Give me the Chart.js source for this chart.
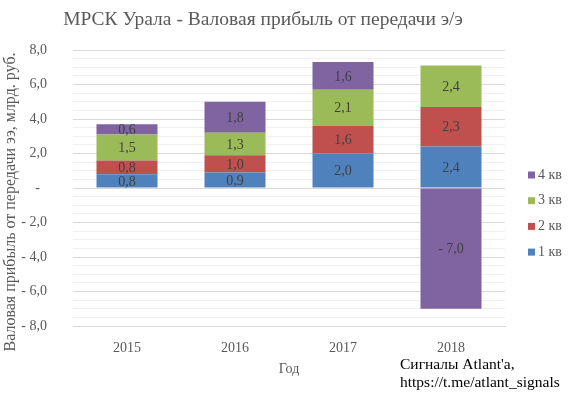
<!DOCTYPE html>
<html>
<head>
<meta charset="utf-8">
<script src="https://cdn.jsdelivr.net/npm/chart.js@4"></script>
<style>
  html, body { margin: 0; padding: 0; background: #fff; }
  #wrap { width: 570px; height: 394px; }
</style>
</head>
<body>
<div id="wrap"><canvas id="chart" width="570" height="394"></canvas></div>
<script>
const years = ['2015', '2016', '2017', '2018'];
const q1 = [0.8, 0.9, 2.0, 2.4];
const q2 = [0.8, 1.0, 1.6, 2.3];
const q3 = [1.5, 1.3, 2.1, 2.4];
const q4 = [0.6, 1.8, 1.6, -7.0];
const seriesNames = ['1 кв', '2 кв', '3 кв', '4 кв'];
const colors = ['#4F81BD', '#C0504D', '#9BBB59', '#8064A2'];

const serif = "'Liberation Serif', 'Times New Roman', serif";
const grey = '#595959';

function fmt(v) {
  if (Math.abs(v) < 1e-9) return '-  ';
  const s = Math.abs(v).toFixed(1).replace('.', ',');
  return v < 0 ? '- ' + s : s;
}

// value labels, title, credit and legend
const extras = {
  id: 'extras',
  afterDatasetsDraw(chart) {
    const ctx = chart.ctx;
    ctx.save();
    ctx.font = '14px ' + serif;
    ctx.fillStyle = '#404040';
    ctx.textAlign = 'center';
    ctx.textBaseline = 'middle';
    chart.data.datasets.forEach((ds, i) => {
      chart.getDatasetMeta(i).data.forEach((bar, j) => {
        const p = bar.getCenterPoint();
        ctx.fillText(fmt(ds.data[j]), p.x, p.y + 1);
      });
    });
    ctx.restore();
  },
  afterDraw(chart) {
    const ctx = chart.ctx;
    ctx.save();
    ctx.textBaseline = 'middle';
    ctx.textAlign = 'center';
    ctx.fillStyle = grey;
    ctx.font = '19.5px ' + serif;
    ctx.fillText('МРСК Урала - Валовая прибыль от передачи э/э', 263, 20);

    ctx.textAlign = 'left';
    ctx.fillStyle = '#000';
    ctx.font = '15.5px ' + serif;
    ctx.fillText("Сигналы Atlant'a,", 400, 365);
    ctx.fillText('https://t.me/atlant_signals', 400, 383);

    // legend, top to bottom: 4 кв ... 1 кв
    ctx.font = '14px ' + serif;
    const n = chart.data.datasets.length;
    for (let k = 0; k < n; k++) {
      const ds = chart.data.datasets[n - 1 - k];
      const y = 175 + k * 25.7;
      ctx.fillStyle = ds.backgroundColor;
      ctx.fillRect(528, y - 3.5, 7, 7);
      ctx.fillStyle = grey;
      ctx.fillText(ds.label, 538, y);
    }
    ctx.restore();
  }
};

new Chart(document.getElementById('chart').getContext('2d'), {
  type: 'bar',
  data: {
    labels: years,
    datasets: [q1, q2, q3, q4].map((d, i) => ({
      label: seriesNames[i],
      data: d,
      backgroundColor: colors[i],
      borderWidth: 0,
      barPercentage: 0.565,
      categoryPercentage: 1
    }))
  },
  options: {
    responsive: false,
    animation: false,
    layout: { padding: { left: 0, right: 65, top: 50, bottom: 0 } },
    plugins: {
      legend: { display: false },
      title: { display: false },
      tooltip: { enabled: false }
    },
    scales: {
      x: {
        stacked: true,
        grid: { display: false },
        border: { display: true, color: '#d9d9d9' },
        ticks: { color: grey, font: { family: serif, size: 14 }, padding: 6 },
        title: {
          display: true, text: 'Год', color: grey,
          font: { family: serif, size: 14 }, padding: { top: 0, bottom: 16 }
        },
        afterFit(scale) { scale.height = 68; }
      },
      y: {
        stacked: true,
        min: -8,
        max: 8,
        border: { display: false },
        grid: {
          drawTicks: false,
          color: (c) => (c.tick && Math.abs(c.tick.value % 2) < 1e-9) ? '#d9d9d9' : '#f0f0f0'
        },
        ticks: {
          stepSize: 0.5,
          autoSkip: false,
          maxTicksLimit: 100,
          padding: 26,
          color: grey,
          font: { family: serif, size: 14 },
          callback: (v) => (Math.abs(v % 2) < 1e-9 ? fmt(v) : '')
        },
        title: {
          display: true,
          text: 'Валовая прибыль от передачи ээ, млрд. руб.' + '\u00a0'.repeat(7),
          color: grey,
          font: { family: serif, size: 16 }, padding: { top: 1, bottom: 0 }
        },
        afterFit(scale) { scale.width = 73; }
      }
    }
  },
  plugins: [extras]
});
</script>
</body>
</html>
